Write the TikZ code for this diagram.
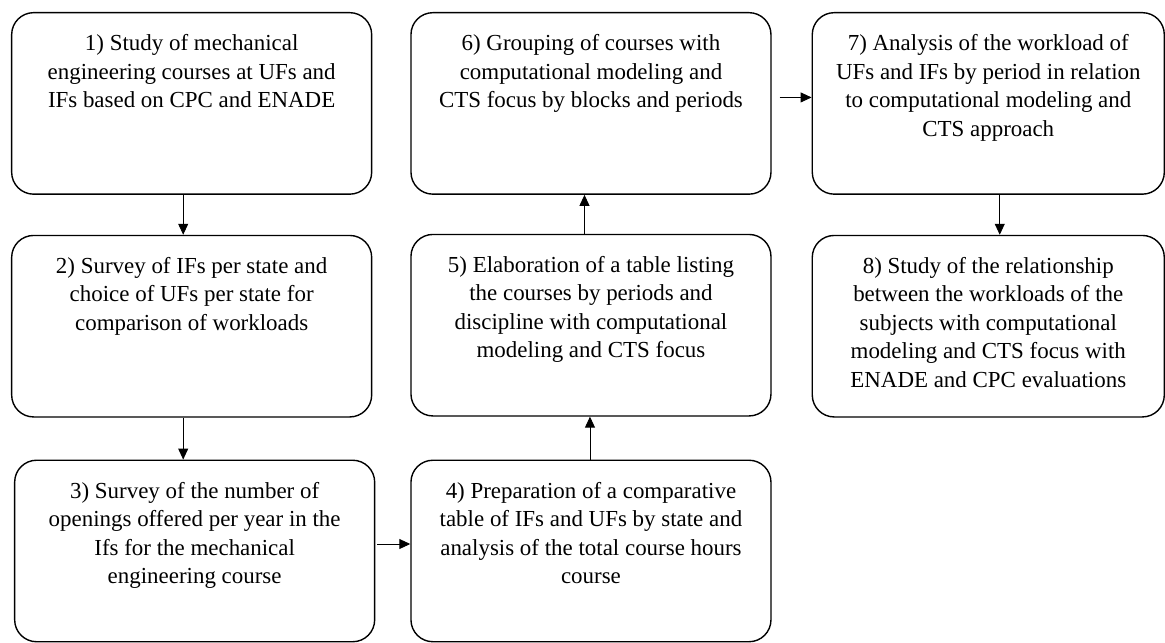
\documentclass[tikz,border=0pt]{standalone}
\usepackage{fontspec}
\setmainfont{Liberation Serif}
\usepackage{tikz}
\usetikzlibrary{
arrows.meta,
positioning
}

\newcommand{\steplines}[1]{\parbox[c][138pt][t]{340pt}{\centering #1}}

\begin{document}
\begin{tikzpicture}[
    >={Triangle[width=10pt,length=11pt]},
    every node/.style={font=\fontsize{23}{28.5}\selectfont},
    stepbox/.style={draw, line width=1.4pt, rounded corners=22pt,
      inner xsep=0pt, inner ysep=22pt,
      minimum width=361pt, minimum height=182pt},
    every edge/.style={draw, ->, line width=0.9pt}]
  \node[stepbox] (s1) {\steplines{1) Study of mechanical\\ engineering courses at UFs and\\ IFs based on CPC and ENADE}};
  \node[stepbox, below=40pt of s1] (s2) {\steplines{2) Survey of IFs per state and\\ choice of UFs per state for\\ comparison of workloads}};
  \node[stepbox, below=42pt of s2, xshift=3pt] (s3) {\steplines{3) Survey of the number of\\ openings offered per year in the\\ Ifs for the mechanical\\ engineering course}};
  \node[stepbox, right=35pt of s3] (s4) {\steplines{4) Preparation of a comparative\\ table of IFs and UFs by state and\\ analysis of the total course hours\\ course}};
  \node[stepbox, above=43pt of s4] (s5) {\steplines{5) Elaboration of a table listing\\ the courses by periods and\\ discipline with computational\\ modeling and CTS focus}};
  \node[stepbox, above=39pt of s5] (s6) {\steplines{6) Grouping of courses with\\ computational modeling and\\ CTS focus by blocks and periods}};
  \node[stepbox, minimum width=353pt, right=40pt of s6] (s7) {\steplines{7) Analysis of the workload of\\ UFs and IFs by period in relation\\ to computational modeling and\\ CTS approach}};
  \node[stepbox, minimum width=353pt, below=40pt of s7] (s8) {\steplines{8) Study of the relationship\\ between the workloads of the\\ subjects with computational\\ modeling and CTS focus with\\ ENADE and CPC evaluations}};
  \path
      ([xshift=-8.5pt]s1.south) edge ([xshift=-8.5pt]s2.north)
      ([xshift=-8.5pt]s2.south) edge ([xshift=-8.5pt]s2.south |- s3.north)
      ([yshift=7pt]s3.east) edge[shorten <=2pt] ([yshift=7pt]s3.east -| s4.west)
      ([xshift=-1pt]s4.north) edge ([xshift=-1pt]s4.north |- s5.south)
      ([xshift=-6.5pt]s5.north) edge ([xshift=-6.5pt]s5.north |- s6.south)
      ([yshift=6pt]s6.east) edge[shorten <=8pt] ([yshift=6pt]s6.east -| s7.west)
      ([xshift=11.5pt]s7.south) edge ([xshift=11.5pt]s8.north);
  \useasboundingbox ([shift={(-11pt,12pt)}]s1.north west) rectangle +(1165pt,-637pt);
\end{tikzpicture}
\end{document}
